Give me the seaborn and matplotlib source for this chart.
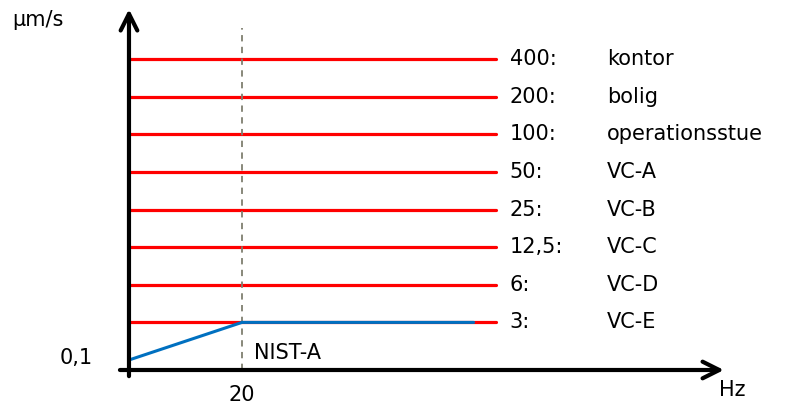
import pandas as pd
import matplotlib.pyplot as plt
import seaborn as sns

# Criteria levels (um/s) and their names, drawn bottom to top
levels = [3, 6, 12.5, 25, 50, 100, 200, 400]
level_labels = ["3:", "6:", "12,5:", "25:", "50:", "100:", "200:", "400:"]
level_names = ["VC-E", "VC-D", "VC-C", "VC-B", "VC-A", "operationsstue", "bolig", "kontor"]
line_x = [0, 65]

# NIST-A curve
nist_x = [0, 20, 61]
nist_y = [0.1, 3, 3]

# levels are drawn evenly spaced, 0.1 one step below 3
all_levels = [0.1] + levels
pos = {v: i for i, v in enumerate(all_levels)}

sns.set_theme(style="white")
plt.rcParams["font.family"] = ["DejaVu Sans"]

red = "#ff0000"
blue = "#0070c0"
black = "#000000"

fig = plt.figure(figsize=(7.9, 4.12), dpi=100, facecolor="white")
ax = fig.add_axes([0, 0, 1, 1])
ax.set_xlim(-22.83, 117.0)
ax.set_ylim(-1.383, 9.574)
ax.axis("off")

red_df = pd.DataFrame(
    [{"level": str(v), "x": x, "y": pos[v]} for v in levels for x in line_x]
)
sns.lineplot(data=red_df, x="x", y="y", hue="level", palette=[red] * len(levels),
             legend=False, linewidth=2.3, ax=ax, estimator=None)

nist_df = pd.DataFrame({"x": nist_x, "y": [pos[v] for v in nist_y]})
sns.lineplot(data=nist_df, x="x", y="y", color=blue, linewidth=2.2, sort=False,
             estimator=None, ax=ax, zorder=3)

# dashed marker at 20 Hz
ax.plot([20, 20], [-0.27, 8.83], color="#7f7f70", linestyle=(0, (3.5, 3)), linewidth=1.3, zorder=2)

# axes with open arrow heads
arrow = dict(arrowstyle="->,head_length=1.0,head_width=0.5", color=black, lw=3, shrinkA=0, shrinkB=0)
ax.annotate("", xy=(0, 9.33), xytext=(0, -0.43), arrowprops=arrow, zorder=4)
ax.annotate("", xy=(105.3, -0.266), xytext=(-1.6, -0.266), arrowprops=arrow, zorder=4)

fs = 15
for v, lab, name in zip(levels, level_labels, level_names):
    ax.text(67.4, pos[v], lab, fontsize=fs, va="center", ha="left", color=black)
    ax.text(84.6, pos[v], name, fontsize=fs, va="center", ha="left", color=black)

ax.text(-6.4, 0.05, "0,1", fontsize=fs, va="center", ha="right", color=black)
ax.text(20, -0.93, "20", fontsize=fs, va="center", ha="center", color=black)
ax.text(22.1, 0.19, "NIST-A", fontsize=fs, va="center", ha="left", color=black)
ax.text(104.5, -0.8, "Hz", fontsize=fs, va="center", ha="left", color=black)
ax.text(-20.7, 9.04, "μm/s", fontsize=fs, va="center", ha="left", color=black)

plt.savefig("out.png", dpi=100, facecolor="white")
